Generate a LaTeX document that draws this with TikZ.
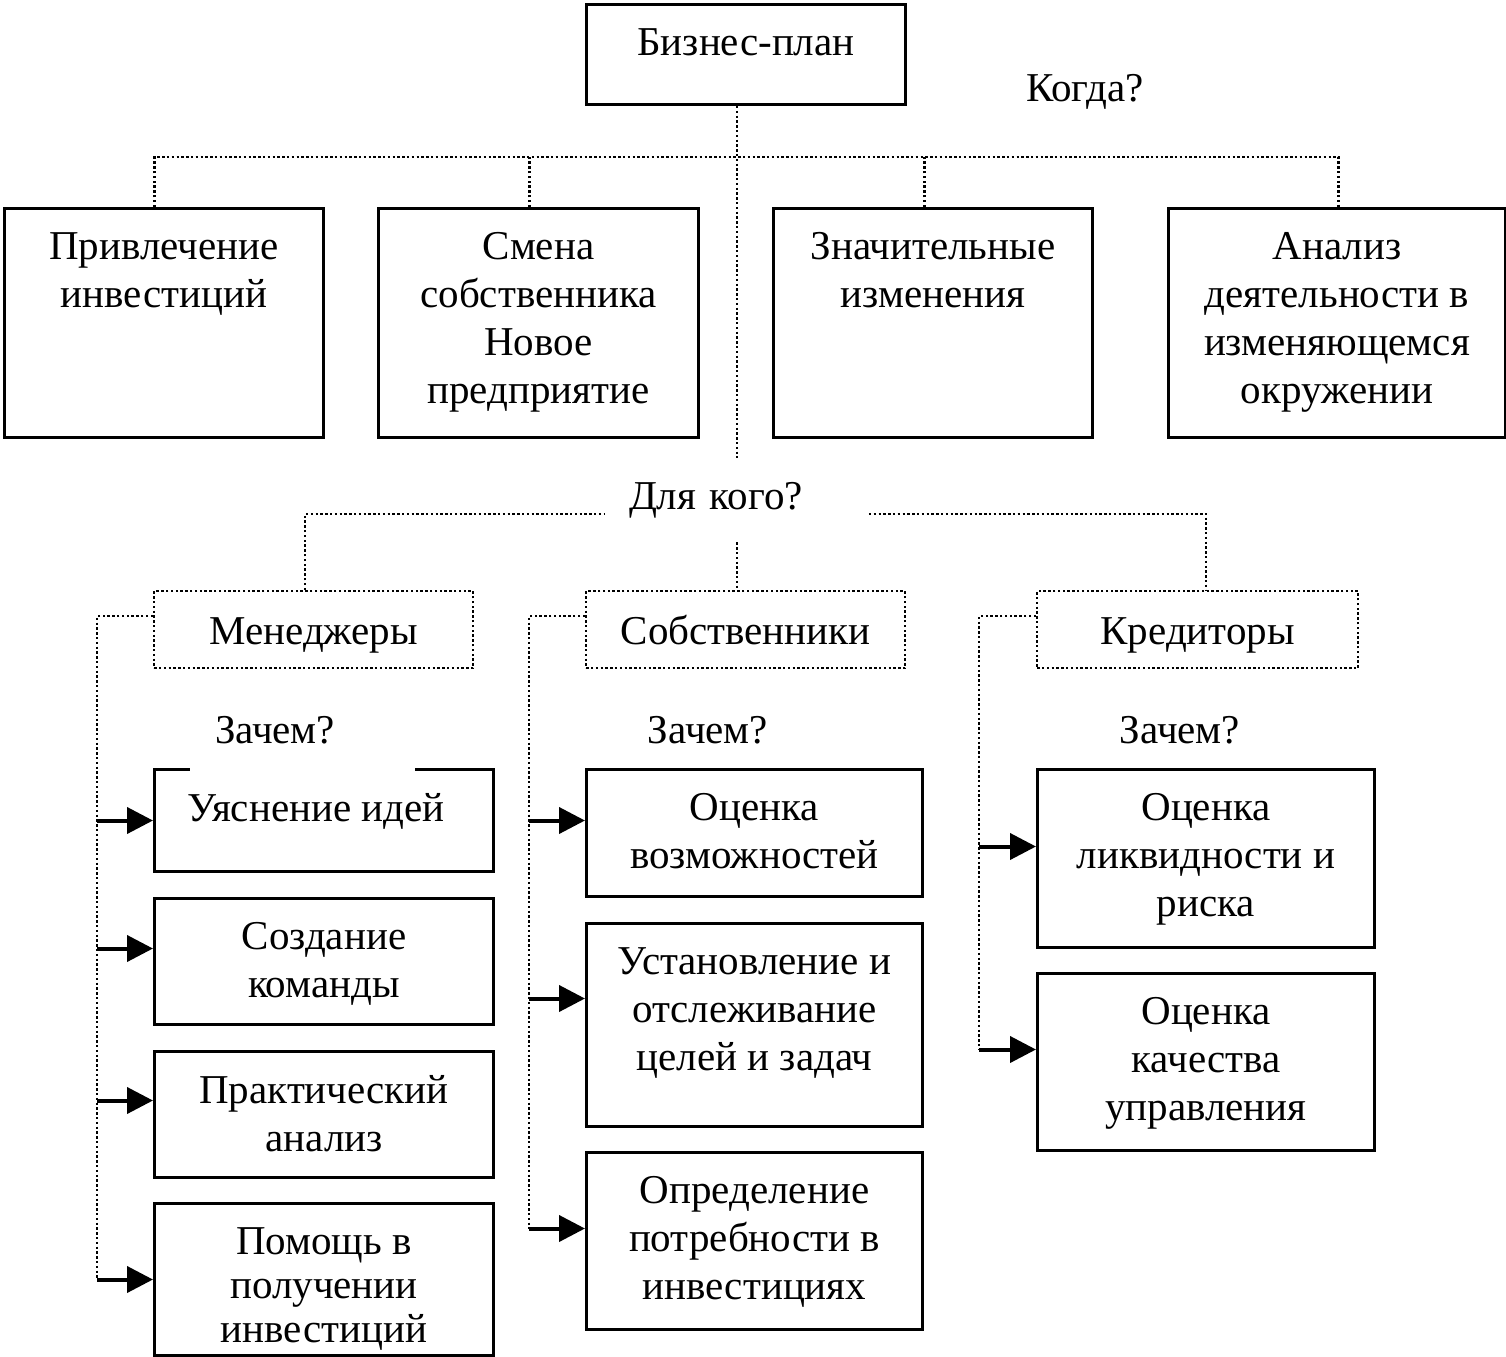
\documentclass[tikz,border=0pt]{standalone}
\usepackage{fontspec}
\setmainfont{Liberation Serif}
\usetikzlibrary{arrows.meta}

\begin{document}
\begin{tikzpicture}[x=0.5pt, y=-0.5pt]
    % Define styles
    \tikzstyle{box} = [rectangle, draw=black, line width=1.5pt, anchor=north west, inner sep=0pt]
    \tikzstyle{boxtext} = [anchor=north, yshift=-12.5pt, inner sep=0pt, align=center, font=\fontsize{20.5}{24}\selectfont]
    \tikzstyle{group} = [rectangle, draw=black, line width=1.2pt, dash pattern=on 1.2pt off 1.2pt, anchor=north west, inner sep=0pt, minimum height=38.5pt, text height=18pt, text depth=3.5pt, font=\fontsize{20.5}{24}\selectfont]
    \tikzstyle{question} = [font=\fontsize{20.5}{24}\selectfont]
    \tikzstyle{link} = [line width=1.2pt, dash pattern=on 1.2pt off 1.2pt]
    \tikzstyle{arrow} = [line width=2pt, -{Triangle[length=13pt, width=13pt]}]

    \useasboundingbox (0,0) rectangle (1506,1356);

    % Nodes
    \node (biz) [box, minimum width=159.5pt, minimum height=50pt, label={[boxtext]north:Бизнес-план}] at (585,3) {};
    \node (when) [question] at (1085,92) {Когда?};
    \coordinate (whenbus) at (737,157);

    \node (invest) [box, minimum width=159.5pt, minimum height=114.5pt, label={[boxtext]north:Привлечение\\инвестиций}] at (3,207) {};
    \node (owner) [box, minimum width=160pt, minimum height=114.5pt, label={[boxtext]north:Смена\\собственника\\Новое\\предприятие}] at (377,207) {};
    \node (change) [box, minimum width=159.5pt, minimum height=114.5pt, label={[boxtext]north:Значительные\\изменения}] at (772,207) {};
    \node (review) [box, minimum width=168.5pt, minimum height=114.5pt, label={[boxtext]north:Анализ\\деятельности в\\изменяющемся\\окружении}] at (1167,207) {};

    \node (whom) [question, fill=white, text width=108pt, inner xsep=11.75pt, minimum height=42pt, align=left] at (737,500) {Для кого?};

    \node (mgr) [group, minimum width=159.5pt] at (153,590) {Менеджеры};
    \node (own) [group, minimum width=159.5pt] at (585,590) {Собственники};
    \node (cred) [group, minimum width=160.5pt] at (1036,590) {Кредиторы};

    \node (m1) [box, minimum width=169.5pt, minimum height=51pt, label={[boxtext, xshift=-4pt]north:Уяснение идей}] at (153,768) {};
    \node (m2) [box, minimum width=169.5pt, minimum height=63pt, label={[boxtext]north:Создание\\команды}] at (153,897) {};
    \node (m3) [box, minimum width=169.5pt, minimum height=63pt, label={[boxtext]north:Практический\\анализ}] at (153,1050) {};
    \node (m4) [box, minimum width=169.5pt, minimum height=76pt, label={[boxtext, font=\fontsize{20.5}{22}\selectfont]north:Помощь в\\получении\\инвестиций}] at (153,1202) {};
    \node (why1) [question, fill=white, text width=87.5pt, inner xsep=12.5pt, minimum height=41pt, align=left] at (302.5,730) {Зачем?};

    \node (why2) [question] at (708,730) {Зачем?};
    \node (s1) [box, minimum width=168pt, minimum height=63.5pt, label={[boxtext]north:Оценка\\возможностей}] at (585,768) {};
    \node (s2) [box, minimum width=168pt, minimum height=101.5pt, label={[boxtext]north:Установление и\\отслеживание\\целей и задач}] at (585,922) {};
    \node (s3) [box, minimum width=168pt, minimum height=88.5pt, label={[boxtext]north:Определение\\потребности в\\инвестициях}] at (585,1151) {};

    \node (why3) [question] at (1180,730) {Зачем?};
    \node (k1) [box, minimum width=168.5pt, minimum height=89pt, label={[boxtext]north:Оценка\\ликвидности и\\риска}] at (1036,768) {};
    \node (k2) [box, minimum width=168.5pt, minimum height=88.5pt, label={[boxtext]north:Оценка\\качества\\управления}] at (1036,972) {};

    % Dotted links
    \draw [link] (biz.south -| whom.north) -- (whom.north);
    \draw [link] ([xshift=-4.75pt]invest.north) |- (whenbus) -| ([xshift=0.75pt]review.north);
    \draw [link] ([xshift=-4.5pt]owner.north) -- ++(0,-50);
    \draw [link] ([xshift=-4.25pt]change.north) -- ++(0,-50);

    \draw [link] ([xshift=-4.25pt]mgr.north) |- ([yshift=-7pt]whom.west);
    \draw [link] ([yshift=-7pt]whom.east) -| ([xshift=4.25pt]cred.north);
    \draw [link] (whom.south) -- (whom.south |- own.north);

    \draw [link] ([yshift=6.75pt]mgr.west) -| ([xshift=-28pt]m4.west);
    \draw [link] ([yshift=6.75pt]own.west) -| ([xshift=-28pt, yshift=6.25pt]s3.west);
    \draw [link] ([yshift=6.75pt]cred.west) -| ([xshift=-28.5pt, yshift=6.25pt]k2.west);

    % Arrows
    \draw [arrow] ([xshift=-28pt]m1.west) -- (m1.west);
    \draw [arrow] ([xshift=-28pt, yshift=6.5pt]m2.west) -- ([yshift=6.5pt]m2.west);
    \draw [arrow] ([xshift=-28pt, yshift=7pt]m3.west) -- ([yshift=7pt]m3.west);
    \draw [arrow] ([xshift=-28pt]m4.west) -- (m4.west);

    \draw [arrow] ([xshift=-28pt, yshift=6.25pt]s1.west) -- ([yshift=6.25pt]s1.west);
    \draw [arrow] ([xshift=-28pt, yshift=13.25pt]s2.west) -- ([yshift=13.25pt]s2.west);
    \draw [arrow] ([xshift=-28pt, yshift=6.25pt]s3.west) -- ([yshift=6.25pt]s3.west);

    \draw [arrow] ([xshift=-28.5pt, yshift=6pt]k1.west) -- ([yshift=6pt]k1.west);
    \draw [arrow] ([xshift=-28.5pt, yshift=6.25pt]k2.west) -- ([yshift=6.25pt]k2.west);
\end{tikzpicture}
\end{document}
